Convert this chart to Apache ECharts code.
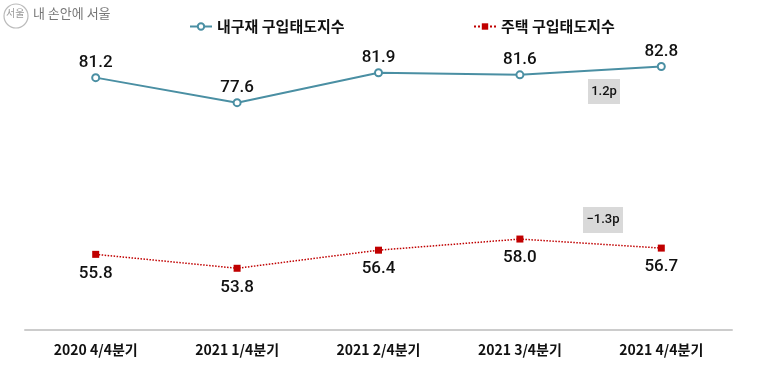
<!DOCTYPE html>
<html><head><meta charset="utf-8">
<script src="https://cdn.jsdelivr.net/npm/echarts@6/dist/echarts.min.js"></script>
<style>html,body{margin:0;padding:0;background:#fff}#c{width:760px;height:382px}</style>
</head><body><div id="c"></div>
<script>
const categories = ['2020 4/4분기', '2021 1/4분기', '2021 2/4분기', '2021 3/4분기', '2021 4/4분기'];
const durableGoods = [81.2, 77.6, 81.9, 81.6, 82.8];
const housing = [55.8, 53.8, 56.4, 58.0, 56.7];
const seriesNames = ['내구재 구입태도지수', '주택 구입태도지수'];
const changeNotes = ['1.2p', '−1.3p'];

const FONT = '"Noto Sans CJK KR", "Noto Sans", sans-serif';
const NUMFONT = 'Roboto, "Noto Sans", sans-serif';
const fmt = p => Number(p.value).toFixed(1);
const chart = echarts.init(document.getElementById('c'));
chart.setOption({
  animation: false,
  textStyle: { fontFamily: FONT },
  grid: { left: 25, right: 28, top: 16.4, bottom: 52.5 },
  legend: [
    { data: [seriesNames[0]], left: 184, top: 14, itemWidth: 22, itemHeight: 8, itemGap: 4,
      textStyle: { fontFamily: FONT, fontSize: 15, fontWeight: 'bold', color: '#111' } },
    { data: [seriesNames[1]], left: 468, top: 14, itemWidth: 22, itemHeight: 8, itemGap: 4,
      textStyle: { fontFamily: FONT, fontSize: 15, fontWeight: 'bold', color: '#111' } }
  ],
  xAxis: {
    type: 'category', data: categories, boundaryGap: true,
    axisLine: { lineStyle: { color: '#cccccc', width: 2 } },
    axisTick: { show: false },
    axisLabel: { margin: 13, fontFamily: FONT, fontSize: 14, fontWeight: 'bold', color: '#111' }
  },
  yAxis: { type: 'value', min: 45, max: 90, show: false, splitLine: { show: false } },
  graphic: [
    { type: 'circle', shape: { cx: 16, cy: 16, r: 12 }, style: { fill: 'none', stroke: '#bbb', lineWidth: 1.2 } },
    { type: 'text', left: 6, top: 8, style: { text: '서울', fontSize: 10, fill: '#999', fontFamily: FONT } },
    { type: 'text', left: 33, top: 7, style: { text: '내 손안에 서울', fontSize: 13, fill: '#777', fontFamily: FONT } },
    { type: 'rect', shape: { x: 588, y: 79, width: 32, height: 25 }, style: { fill: '#d9d9d9' } },
    { type: 'text', x: 604, y: 91.5, style: { text: changeNotes[0], align: 'center', verticalAlign: 'middle', fontSize: 13, fontWeight: 500, fill: '#111', fontFamily: NUMFONT } },
    { type: 'rect', shape: { x: 583, y: 207, width: 40, height: 26 }, style: { fill: '#d9d9d9' } },
    { type: 'text', x: 603, y: 220, style: { text: changeNotes[1], align: 'center', verticalAlign: 'middle', fontSize: 13, fontWeight: 500, fill: '#111', fontFamily: NUMFONT } }
  ],
  series: [
    { name: seriesNames[0], type: 'line', data: durableGoods,
      symbol: 'emptyCircle', symbolSize: 7,
      lineStyle: { color: '#4a8fa3', width: 2 },
      itemStyle: { color: '#4a8fa3', borderWidth: 2 },
      label: { show: true, position: 'top', distance: 2, formatter: fmt, fontSize: 17, fontWeight: 500, color: '#111', fontFamily: NUMFONT } },
    { name: seriesNames[1], type: 'line', data: housing,
      symbol: 'rect', symbolSize: 7,
      lineStyle: { color: '#c00000', width: 1.5, type: 'dotted' },
      itemStyle: { color: '#c00000' },
      label: { show: true, position: 'bottom', distance: 7, formatter: fmt, fontSize: 17, fontWeight: 500, color: '#111', fontFamily: NUMFONT } }
  ]
});
</script></body></html>
